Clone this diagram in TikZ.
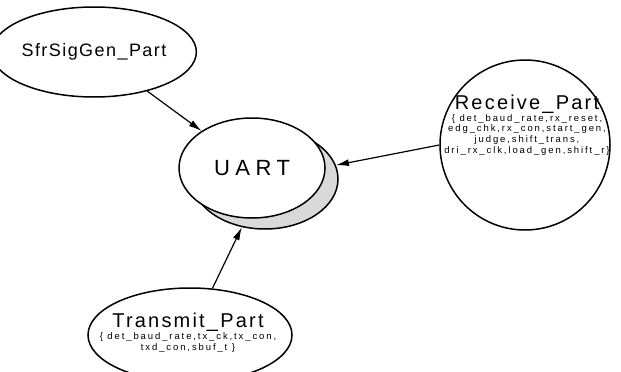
\documentclass[tikz,border=0pt]{standalone}
\usepackage{fontspec}
\setmainfont{Liberation Sans}
\newfontfamily\namefont[LetterSpace=8]{Liberation Sans}
\newfontfamily\titlefont[LetterSpace=11]{Liberation Sans}
\newfontfamily\uartfont[LetterSpace=25]{Liberation Sans}
\newfontfamily\listfont[LetterSpace=20]{Liberation Sans}
\usetikzlibrary{shapes.geometric,arrows.meta}

\begin{document}
\begin{tikzpicture}[x=1pt, y=-1pt,
		part/.style = {draw, line width=1.5pt, ellipse, inner sep=0pt, fill=white},
		listtext/.style = {align=center, font={\listfont\fontsize{9.5}{10.7}\selectfont}},
		con/.style = {-{Latex[length=13pt,width=7pt]}, line width=1.2pt}]
	\useasboundingbox (0,0) rectangle (621,372);
	\node[part, minimum width=162pt, minimum height=90pt] (sfr) at (94,52) {\namefont\fontsize{18}{20}\selectfont SfrSigGen\_Part};
	\node[part, minimum width=146pt, minimum height=100pt, fill=black!15] (uartback) at (265,179) {};
	\node[part, minimum width=146pt, minimum height=100pt] (uart) at (252,168) {\uartfont\fontsize{22}{24}\selectfont UART};
	\node[part, circle, minimum size=170pt] (recv) at (525,145) {};
	\node[listtext] (recvtext) at (527,125) {{\titlefont\fontsize{20}{20}\selectfont Receive\_Part}\\ \{ det\_baud\_rate,rx\_reset,\\ edg\_chk,rx\_con,start\_gen,\\ judge,shift\_trans,\\ dri\_rx\_clk,load\_gen,shift\_r\}};
	\node[part, minimum width=204pt, minimum height=94pt] (trans) at (190,335) {};
	\node[listtext] (transtext) at (188,333) {{\titlefont\fontsize{20}{20}\selectfont Transmit\_Part}\\ \{ det\_baud\_rate,tx\_ck,tx\_con,\\ txd\_con,sbuf\_t \}};
	\draw[con] (sfr) -- (uart);
	\draw[con] (recv.west) -- (uartback);
	\draw[con] (trans) -- (uartback);
\end{tikzpicture}
\end{document}
